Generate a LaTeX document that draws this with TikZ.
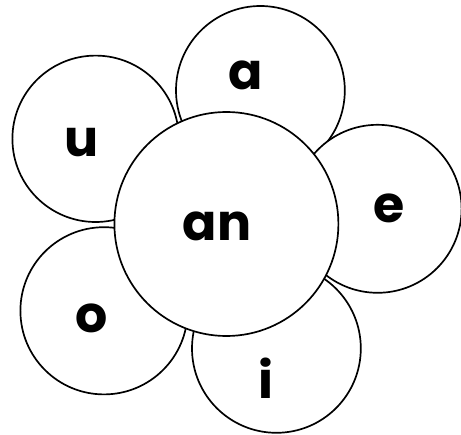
\documentclass[tikz,border=0pt]{standalone}
\usepackage{fontspec}
\setmainfont{Poppins}
\tikzset{
  petal/.style={draw, circle, fill=white, line width=1.2pt, inner sep=0pt},
  letter/.style={font=\fontsize{36}{40}\selectfont\bfseries, anchor=base, inner sep=0pt},
}
\begin{document}
\begin{tikzpicture}
  \useasboundingbox (0,0) rectangle (11.525,10.85);
  % petals
  \node[petal, minimum size=4.22cm] (pa) at (6.51, 8.59) {};
  \node[petal, minimum size=4.16cm] (pu) at (2.39, 7.38) {};
  \node[petal, minimum size=4.18cm] (po) at (2.60, 3.08) {};
  \node[petal, minimum size=4.22cm] (pi) at (6.91, 2.14) {};
  \node[petal, minimum size=4.20cm] (pe) at (9.44, 5.63) {};
  % middle
  \node[petal, minimum size=5.60cm] (mid) at (5.66, 5.25) {};
  % letters
  \node[letter] (la) at (6.13, 8.60) {a};
  \node[letter] (lu) at (2.03, 6.93) {u};
  \node[letter] (le) at (9.73, 5.30) {e};
  \node[letter] (lo) at (2.28, 2.53) {o};
  \node[letter] (li) at (6.66, 0.90) {i};
  \node[letter] (lan) at (5.43, 4.85) {an};
\end{tikzpicture}
\end{document}
